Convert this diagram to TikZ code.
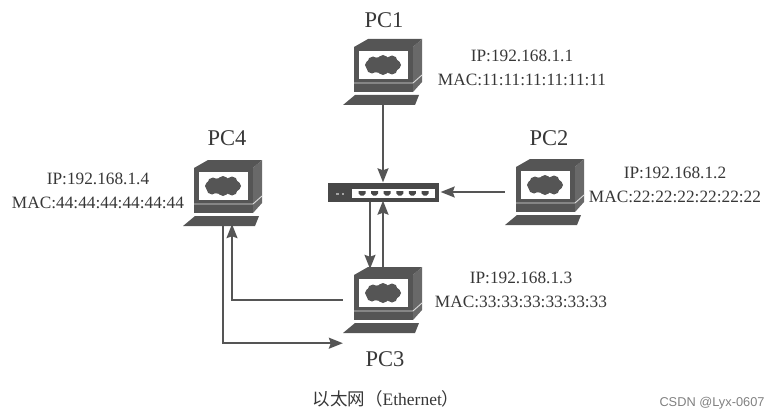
\documentclass[tikz,border=0pt]{standalone}
\usepackage{fontspec}
\setmainfont{Liberation Serif}
\setsansfont{Liberation Sans}
\newfontfamily\cjk{Noto Sans CJK SC}
\usetikzlibrary{arrows.meta, calc}
\definecolor{pcgray}{RGB}{85, 85, 85}
\definecolor{pcside}{RGB}{105, 105, 105}
\definecolor{labelgray}{RGB}{55, 55, 55}
\tikzset{
    pcbox/.style={minimum width=80pt, minimum height=66pt, inner sep=0pt},
    pcname/.style={text=labelgray, font=\fontsize{22.5}{22.5}\selectfont},
    addr/.style={text=labelgray, align=center, font=\fontsize{17.3}{24.5}\selectfont},
    link/.style={draw=pcgray, line width=1.6pt, -{Stealth[length=14pt, width=11pt, inset=2pt]}},
    pcunit/.pic={
        % Monitor
        \fill[pcgray] (-29,-25) -- (-15,-33) -- (39,-33) -- (30,-25) -- cycle;
        \fill[pcgray] (-29,-25) rectangle (30,20);
        \fill[pcside] (30,-25) -- (39,-33) -- (39,10) -- (30,20) -- cycle;
        \draw[white!80!pcgray, line width=0.9pt] (-29,11) -- (30,11) -- (39,3);
        % Screen
        \fill[white] (-24,-21) rectangle (25,7);
        \fill[pcgray] (0,-7) ellipse (18 and 8);
        \foreach \a/\b in {-10/-10, 0/-11.5, 9/-11, -11/-4, 0/-2.5, 9/-3} {
            \fill[pcgray] (\a,\b) circle (5.5);
        }
        % Keyboard
        \fill[pcgray] (-28,23) -- (36,23) -- (32,33) -- (-40,33) -- cycle;
    },
    switchunit/.pic={
        \fill[pcgray!85!black] (-55.5,-9.5) rectangle (55.5,9.5);
        \fill[white] (-31,-3) rectangle (52,6);
        \fill[pcside!60!white] (-47,0.5) rectangle (-44.5,3);
        \fill[pcside!60!white] (-41.5,0.5) rectangle (-39,3);
        \foreach \i in {0,...,5} {
            \fill[pcgray!85!black] (-21+12.6*\i-3.5,-1) -- ++(7,0) -- ++(0,2.5) -- ++(-2,2) -- ++(-3,0) -- ++(-2,-2) -- cycle;
        }
    }
}

\begin{document}
\begin{tikzpicture}[x=1pt, y=-1pt]
    \useasboundingbox (0,0) rectangle (780,420);

    % PCs
    \foreach \n/\px/\py in {pc1/383/72, pc2/545/192, pc3/383/300, pc4/223/193} {
        \node[pcbox] (\n) at (\px,\py) {};
        \pic at (\n) {pcunit};
    }

    % Switch
    \node[minimum width=111pt, minimum height=19pt, inner sep=0pt] (sw) at (383,192) {};
    \pic at (sw) {switchunit};

    % Names
    \node[pcname] (pc1name) at (384,20) {PC1};
    \node[pcname] (pc2name) at (549,138) {PC2};
    \node[pcname] (pc3name) at (385,359) {PC3};
    \node[pcname] (pc4name) at (227,138) {PC4};

    % Addresses
    \node[addr] (pc1addr) at (522,68) {IP:192.168.1.1\\MAC:11:11:11:11:11:11};
    \node[addr] (pc2addr) at (675,185) {IP:192.168.1.2\\MAC:22:22:22:22:22:22};
    \node[addr] (pc3addr) at (521,290) {IP:192.168.1.3\\MAC:33:33:33:33:33:33};
    \node[addr] (pc4addr) at (98,191) {IP:192.168.1.4\\MAC:44:44:44:44:44:44};

    % Connectors
    \draw[link] (pc1.south) -- (sw.north);
    \draw[link] (pc2.west) -- ([xshift=2pt]sw.east);
    \draw[link] ([xshift=-13pt]sw.south) -- ([xshift=-13pt, yshift=-2pt]pc3.north);
    \draw[link] (pc3.north) -- ([yshift=1pt]sw.south);
    \draw[link] (pc3.west) -| ([xshift=9pt, yshift=2pt]pc4.south);
    \draw[link] (pc4.south) |- ([yshift=-10pt]pc3.south west);

    % Caption
    \node[text=labelgray, font=\fontsize{17.5}{17.5}\selectfont] (caption) at (386,399) {{\cjk 以太网（}Ethernet{\cjk ）}};
    \node[text=gray, font=\sffamily\fontsize{12.8}{13}\selectfont] (mark) at (712,403) {CSDN @Lyx-0607};
\end{tikzpicture}
\end{document}
